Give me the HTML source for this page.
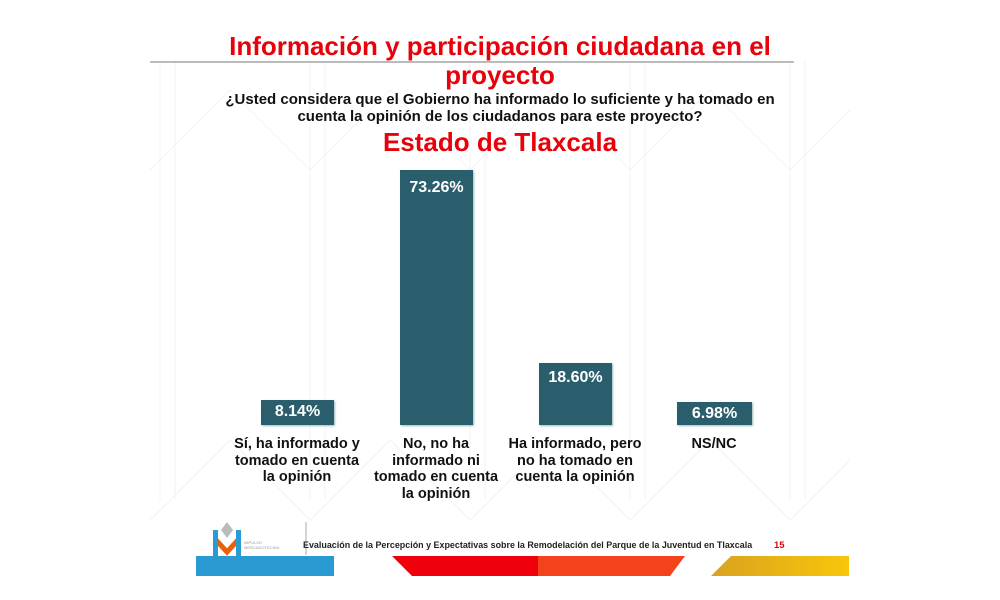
<!DOCTYPE html>
<html><head><meta charset="utf-8"><style>
body{margin:0;width:1000px;height:600px;background:#fff;position:relative;overflow:hidden;font-family:"Liberation Sans",Arial,sans-serif}
.a{position:absolute}
.t{color:#e8000b;font-weight:bold;text-align:center;width:1000px;left:0}
.bar{position:absolute;background:#2a5e6d;color:#fff;font-weight:bold;font-size:16px;text-align:center;line-height:24px;box-shadow:1px 1px 2px #9bb}
.lab{position:absolute;width:140px;text-align:center;font-weight:bold;font-size:14.5px;line-height:16.5px;color:#111}
</style></head><body>
<svg class="a" style="left:0;top:0" width="1000" height="600">
<g stroke="#f3f3f3" stroke-width="1" fill="none">
<path d="M150 170 L230 90 L310 170 L390 90 L470 170 L550 90 L630 170 L710 90 L790 170 L850 110"/>
<path d="M150 520 L230 440 L310 520 L390 440 L470 520 L550 440 L630 520 L710 440 L790 520 L850 460"/>
<path d="M160 60V500 M175 60V500 M310 60V500 M325 60V500 M470 60V500 M485 60V500 M630 60V500 M645 60V500 M790 60V500 M805 60V500"/>
</g>
<line x1="150" y1="62" x2="794" y2="62" stroke="#777" stroke-width="1"/>
<rect x="196" y="556" width="138" height="20" fill="#2a9ad2"/>
<polygon points="392,556 538,556 538,576 412,576" fill="#f0000a"/>
<polygon points="538,556 685,556 670,576 538,576" fill="#f3421c"/>
<defs><linearGradient id="g" x1="0" x2="1"><stop offset="0" stop-color="#d9a21f"/><stop offset="1" stop-color="#f8c60a"/></linearGradient></defs>
<polygon points="731,556 849,556 849,576 711,576" fill="url(#g)"/>
<polygon points="221,530 227,522 233,530 227,538" fill="#bbb"/>
<path d="M216 540 L227 552 L238 540" stroke="#e8600a" stroke-width="5" fill="none"/>
<rect x="213" y="530" width="5" height="26" fill="#2a9ad2"/>
<rect x="236" y="530" width="5" height="26" fill="#2a9ad2"/>
<line x1="306" y1="522" x2="306" y2="555" stroke="#aaa"/>
</svg>
<div class="a t" style="top:32px;font-size:26px;line-height:29px">Información y participación ciudadana en el<br>proyecto</div>
<div class="a" style="left:0;width:1000px;top:91px;text-align:center;font-weight:bold;font-size:15px;line-height:17px;color:#111">¿Usted considera que el Gobierno ha informado lo suficiente y ha tomado en<br>cuenta la opinión de los ciudadanos para este proyecto?</div>
<div class="a t" style="top:127px;font-size:26px;line-height:30px">Estado de Tlaxcala</div>
<div class="bar" style="left:261px;top:400px;width:73px;height:25px">8.14%</div>
<div class="bar" style="left:400px;top:170px;width:73px;height:255px;line-height:36px">73.26%</div>
<div class="bar" style="left:539px;top:363px;width:73px;height:62px;line-height:30px">18.60%</div>
<div class="bar" style="left:677px;top:402px;width:75px;height:23px;line-height:23px">6.98%</div>
<div class="lab" style="left:227px;top:436px">Sí, ha informado y tomado en cuenta la opinión</div>
<div class="lab" style="left:366px;top:436px">No, no ha informado ni tomado en cuenta la opinión</div>
<div class="lab" style="left:505px;top:436px">Ha informado, pero no ha tomado en cuenta la opinión</div>
<div class="lab" style="left:644px;top:436px">NS/NC</div>
<div class="a" style="left:244px;top:540px;font-size:4px;color:#999;line-height:5px">IMPULSO<br>MERCADOTECNIA</div>
<div class="a" style="left:303px;top:540px;font-size:9.5px;color:#222;font-weight:bold;white-space:nowrap;transform:scaleX(0.94);transform-origin:0 0">Evaluación de la Percepción y Expectativas sobre la Remodelación del Parque de la Juventud en Tlaxcala</div>
<div class="a" style="left:774px;top:540px;font-size:9.5px;color:#e8000b;font-weight:bold">15</div>
</body></html>
